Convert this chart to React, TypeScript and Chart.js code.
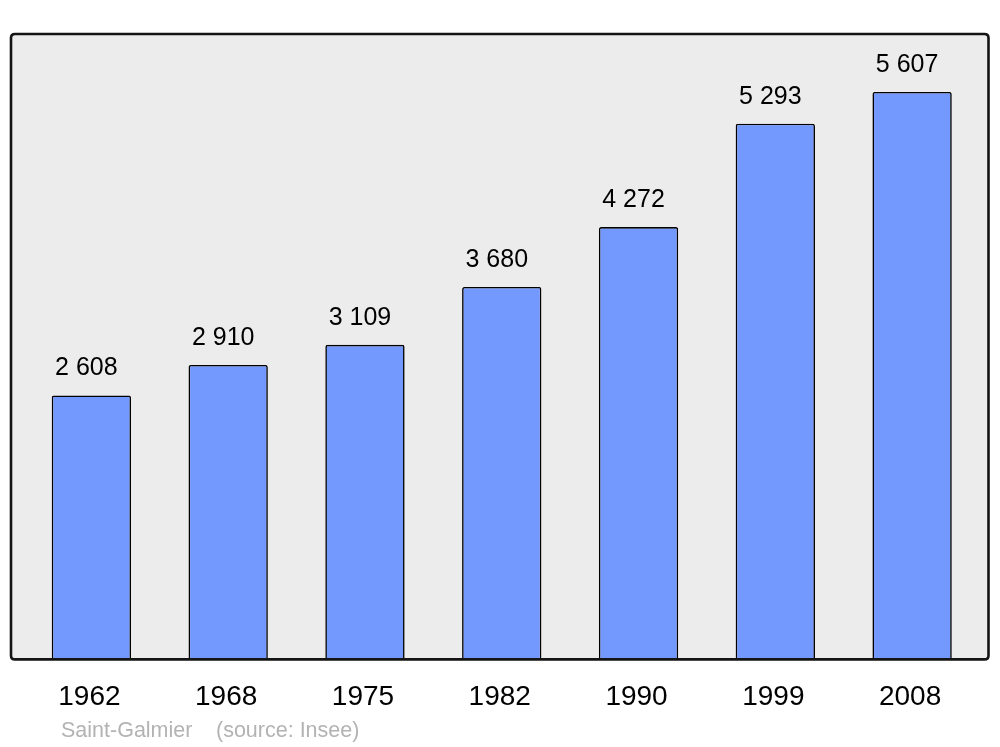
import React, { useEffect, useRef } from "react";
import { Chart, registerables } from "chart.js";

Chart.register(...registerables);

const years = ["1962", "1968", "1975", "1982", "1990", "1999", "2008"];
const population = [2608, 2910, 3109, 3680, 4272, 5293, 5607];
const valueLabels = ["2 608", "2 910", "3 109", "3 680", "4 272", "5 293", "5 607"];
const sourceName = "Saint-Galmier";
const sourceNote = "(source: Insee)";
const yMax = 6180;

const FONT = "'Liberation Sans', Arial, sans-serif";

function roundRect(ctx: CanvasRenderingContext2D, x: number, y: number, w: number, h: number, r: number) {
  ctx.beginPath();
  ctx.moveTo(x + r, y);
  ctx.lineTo(x + w - r, y);
  ctx.quadraticCurveTo(x + w, y, x + w, y + r);
  ctx.lineTo(x + w, y + h - r);
  ctx.quadraticCurveTo(x + w, y + h, x + w - r, y + h);
  ctx.lineTo(x + r, y + h);
  ctx.quadraticCurveTo(x, y + h, x, y + h - r);
  ctx.lineTo(x, y + r);
  ctx.quadraticCurveTo(x, y, x + r, y);
  ctx.closePath();
}

const framePlugin = {
  id: "frame",
  beforeDatasetsDraw(chart: any) {
    const { ctx, chartArea } = chart;
    const x = chartArea.left - 12;
    const y = chartArea.top;
    const w = chartArea.right + 8 - x;
    const h = chartArea.bottom - y;
    ctx.save();
    roundRect(ctx, x, y, w, h, 4);
    ctx.fillStyle = "#ececec";
    ctx.fill();
    ctx.restore();
  },
  afterDatasetsDraw(chart: any) {
    const { ctx, chartArea } = chart;
    const x = chartArea.left - 12;
    const y = chartArea.top;
    const w = chartArea.right + 8 - x;
    const h = chartArea.bottom - y;
    ctx.save();
    roundRect(ctx, x, y, w, h, 4);
    ctx.lineWidth = 2.6;
    ctx.strokeStyle = "#141414";
    ctx.stroke();

    // value labels above bars
    const meta = chart.getDatasetMeta(0);
    ctx.fillStyle = "#000";
    ctx.font = `25px ${FONT}`;
    ctx.textAlign = "center";
    ctx.textBaseline = "alphabetic";
    meta.data.forEach((bar: any, i: number) => {
      ctx.fillText(valueLabels[i], bar.x - 5, bar.y - 20);
    });

    // source footer
    ctx.fillStyle = "#b3b3b3";
    ctx.font = `21.5px ${FONT}`;
    ctx.textAlign = "left";
    ctx.fillText(sourceName, chartArea.left + 38, 737);
    ctx.fillText(sourceNote, chartArea.left + 193, 737);
    ctx.restore();
  },
};

export default function App() {
  const canvasRef = useRef<HTMLCanvasElement | null>(null);

  useEffect(() => {
    document.body.style.margin = "0";
    const canvas = canvasRef.current;
    if (!canvas) return;
    const chart = new Chart(canvas, {
      type: "bar",
      data: {
        labels: years,
        datasets: [
          {
            data: population,
            backgroundColor: "#7399ff",
            borderColor: "#000000",
            borderWidth: 1.6,
            borderRadius: { topLeft: 2, topRight: 2, bottomLeft: 0, bottomRight: 0 },
            borderSkipped: "bottom",
            barPercentage: 0.58,
            categoryPercentage: 1,
          },
        ],
      },
      options: {
        responsive: false,
        animation: false,
        events: [],
        layout: { padding: { left: 23, right: 19.5, top: 34, bottom: 12 } },
        plugins: {
          legend: { display: false },
          tooltip: { enabled: false },
          title: { display: false },
        },
        scales: {
          x: {
            grid: { display: false, drawTicks: false },
            border: { display: false },
            ticks: {
              color: "#000",
              font: { family: FONT, size: 28 },
              padding: 21,
              labelOffset: -2,
              maxRotation: 0,
            },
          },
          y: {
            display: false,
            min: 0,
            max: yMax,
          },
        },
      },
      plugins: [framePlugin],
    });
    return () => chart.destroy();
  }, []);

  return (
    <div style={{ width: 1000, height: 747 }}>
      <canvas ref={canvasRef} width={1000} height={747} style={{ display: "block" }} />
    </div>
  );
}
